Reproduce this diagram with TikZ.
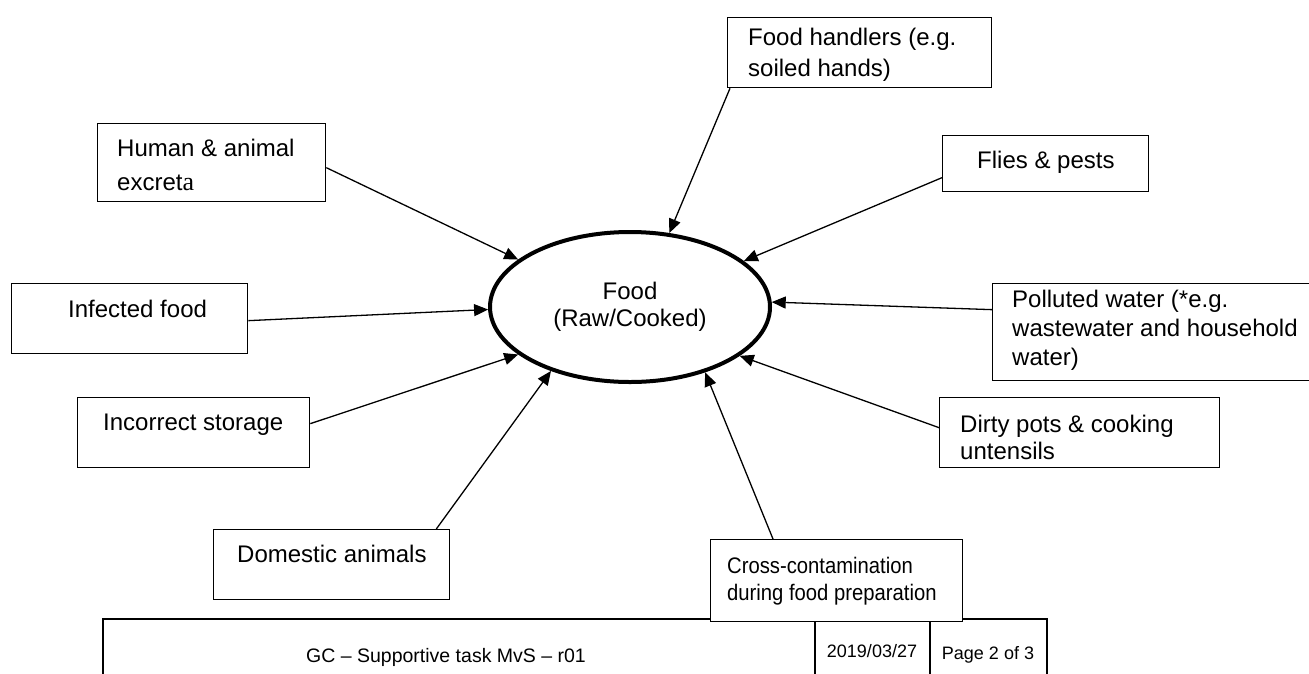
\documentclass[tikz,border=0pt]{standalone}
\usepackage{fontspec}
\setmainfont{Liberation Sans}
\newfontfamily\serifa{Liberation Serif}
\usetikzlibrary{arrows.meta,shapes.geometric}
\begin{document}
\begin{tikzpicture}[x=1pt,y=-1pt,
  box/.style={draw, line width=1.3pt, fill=white, inner sep=0pt, anchor=north west},
  lbl/.style={inner sep=0pt, anchor=north west, align=left},
  arr/.style={line width=1.3pt, -{Triangle[length=14pt,width=12pt]}},
  foot/.style={line width=1.8pt},
  ftxt/.style={inner sep=0pt, anchor=base, font=\fontsize{18}{22}\selectfont}]
\useasboundingbox (0,0) rectangle (1309,673);
\clip (0,0) rectangle (1309,673);

% footer table
\draw[foot] (103,680) -- (103,619) -- (1047,619) -- (1047,680);
\draw[foot] (815,619) -- (815,680);
\draw[foot] (930,619) -- (930,680);
\node[ftxt, anchor=base west, font=\fontsize{19.5}{22}\selectfont] (ft1) at (306,662) {GC – Supportive task MvS – r01};
\node[ftxt] (ft2) at (872,657) {2019/03/27};
\node[ftxt] (ft3) at (988,659) {Page 2 of 3};

% central ellipse
\node[ellipse, draw, line width=4pt, minimum width=280pt, minimum height=150pt,
      inner sep=0pt, align=center, font=\fontsize{24}{27}\selectfont] (food) at (630,307)
      {Food\\(Raw/Cooked)};

% boxes
\node[box, minimum width=264pt, minimum height=70pt] (fh) at (727,17) {};
\node[lbl, font=\fontsize{24}{31}\selectfont] (fht) at (748,27.5) {Food handlers (e.g.\\soiled hands)};

\node[box, minimum width=228pt, minimum height=78pt] (hum) at (97,123) {};
\node[lbl, font=\fontsize{24}{34}\selectfont] (humt) at (117,138.5) {Human \& animal\\excret{\serifa\fontsize{26}{34}\selectfont a}};

\node[box, minimum width=206pt, minimum height=56pt] (fly) at (942,135) {};
\node[lbl, font=\fontsize{24}{30}\selectfont] (flyt) at (977,150.5) {Flies \& pests};

\node[box, minimum width=236pt, minimum height=70pt] (inf) at (11,283) {};
\node[lbl, font=\fontsize{24}{30}\selectfont] (inft) at (68,299.5) {Infected food};

\node[box, minimum width=320pt, minimum height=97pt] (pol) at (992,283) {};
\node[lbl, font=\fontsize{24}{29}\selectfont] (polt) at (1012,289.5) {Polluted water (*e.g.\\wastewater and household\\water)};

\node[box, minimum width=232pt, minimum height=70pt] (inc) at (77,397) {};
\node[lbl, font=\fontsize{24}{30}\selectfont] (inct) at (103,413.5) {Incorrect storage};

\node[box, minimum width=280pt, minimum height=70pt] (dirty) at (939,397) {};
\node[lbl, font=\fontsize{24}{27}\selectfont] (dirtyt) at (960,414.5) {Dirty pots \& cooking\\untensils};

\node[box, minimum width=236pt, minimum height=70pt] (dom) at (213,529) {};
\node[lbl, font=\fontsize{24}{30}\selectfont] (domt) at (237,544.5) {Domestic animals};

\node[box, minimum width=252pt, minimum height=82pt] (cross) at (710,539) {};
\node[lbl, font=\fontsize{22.5}{27}\selectfont] (crosst) at (727,554.1)
  {\scalebox{0.9}[1]{\begin{tabular}{@{}l@{}}Cross-contamination\\during food preparation\end{tabular}}};

% connectors
\draw[arr] ([yshift=-5pt]hum.east) -- (food.157.5);
\draw[arr] ([xshift=3pt]fh.south west) -- (food.62);
\draw[arr] ([yshift=-14pt]fly.west) -- (food.22.5);
\draw[arr] ([yshift=22.5pt]pol.west) -- (food.2);
\draw[arr] ([yshift=5pt]dirty.west) -- (food.-24);
\draw[arr] ([xshift=63pt]cross.north west) -- (food.-41.5);
\draw[arr] ([xshift=-14pt]dom.north east) -- (food.219.5);
\draw[arr] ([yshift=9pt]inc.east) -- (food.203);
\draw[arr] ([yshift=-2pt]inf.east) -- (food.181);
\end{tikzpicture}
\end{document}
